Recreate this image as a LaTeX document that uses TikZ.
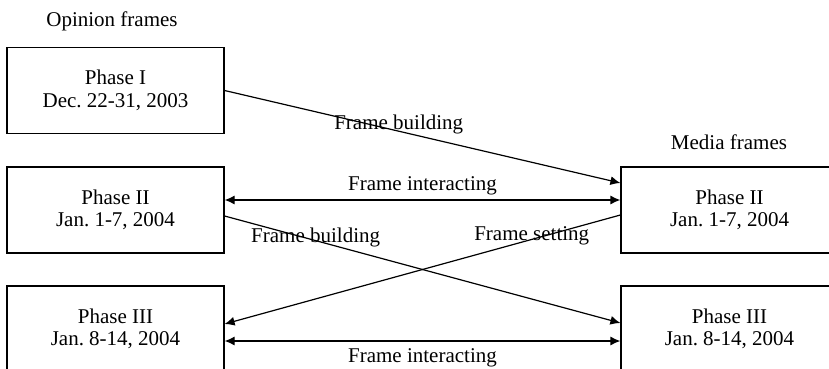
\documentclass[tikz,border=0pt]{standalone}
\usepackage{fontspec}
\setmainfont{Liberation Serif}
\usetikzlibrary{arrows.meta}
\frenchspacing

\begin{document}
\begin{tikzpicture}[x=0.5pt, y=-0.5pt,
    font=\rmfamily\fontsize{10.5}{11.2}\selectfont,
    phase/.style={draw, line width=.6pt, minimum width=108.5pt, minimum height=43pt, align=center},
    flow/.style={line width=.6pt, -{Latex[length=5pt,width=4.5pt]}},
    twoway/.style={line width=.6pt, {Latex[length=5pt,width=4.5pt]}-{Latex[length=5pt,width=4.5pt]}}]
    \useasboundingbox (0,0) rectangle (829,369);
    \node (OT) at (112,21) {Opinion frames};
    \node (MT) at (729,142) {Media frames};
    \node [phase] (O1) at (115.5,90.5) {Phase I\\Dec.\ 22-31, 2003};
    \node [phase] (O2) at (115.5,210) {Phase II\\Jan.\ 1-7, 2004};
    \node [phase] (O3) at (115.5,329) {Phase III\\Jan.\ 8-14, 2004};
    \node [phase] (M2) at (729.5,210) {Phase II\\Jan.\ 1-7, 2004};
    \node [phase] (M3) at (729.5,329) {Phase III\\Jan.\ 8-14, 2004};
    \draw [flow] (O1.east) -- node [pos=.44, yshift=3.5pt] {Frame building} ([yshift=13.5pt]M2.west);
    \draw [twoway] ([yshift=5pt]O2.east) -- node [yshift=7pt] {Frame interacting} ([yshift=5pt]M2.west);
    \draw [flow] ([yshift=-3pt]O2.east) -- node [pos=.23, yshift=1.8pt] {Frame building} ([yshift=3pt]M3.west);
    \draw [flow] ([yshift=-2.5pt]M2.west) -- node [pos=.224, yshift=1.7pt] {Frame setting} ([yshift=2.5pt]O3.east);
    \draw [twoway] ([yshift=-6pt]O3.east) -- node [yshift=-8.5pt] {Frame interacting} ([yshift=-6pt]M3.west);
\end{tikzpicture}
\end{document}
